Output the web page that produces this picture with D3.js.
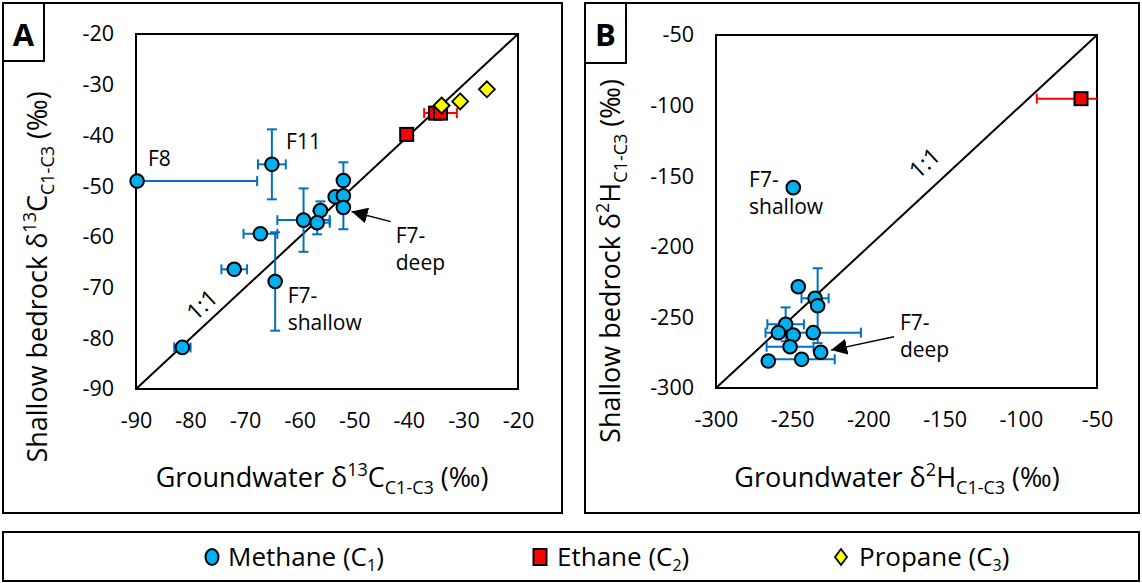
<!DOCTYPE html>
<html><head><meta charset="utf-8">
<script src="https://cdn.jsdelivr.net/npm/d3@7"></script>
<style>
body{margin:0;background:#fff}
svg{display:block}
text{font-family:"Open Sans",sans-serif;fill:#000}
</style>
</head><body>
<svg id="c" width="1142" height="583"></svg>
<script>
// ---------- DATA ----------
// Panel A: delta13C (permil)
const ticksA = [-90, -80, -70, -60, -50, -40, -30, -20];
const domainA = [-90, -20];
const methaneA_x = [-89.8, -65.1, -52.0, -53.5, -52.0, -52.0, -56.2, -56.8, -59.3, -67.2, -64.5, -72.0, -81.5];
const methaneA_y = [-49.0, -45.7, -48.9, -52.1, -51.9, -54.2, -54.8, -57.2, -56.7, -59.4, -68.8, -66.4, -81.8];
const methaneA_xErr = [22, 2.55, 0, 0, 0, 0, 0, 2.3, 4.8, 3.1, 0, 2.35, 1.5];
const methaneA_yErr = [0, 6.9, 3.6, 0, 0, 4.3, 1.8, 2.3, 6.25, 0, 9.7, 0, 0];
const ethaneA_x = [-40.4, -35.1, -34.2];
const ethaneA_y = [-39.8, -35.6, -35.6];
const ethaneA_xErr = [0, 0, 3.0];
const propaneA_x = [-34.0, -30.6, -25.7];
const propaneA_y = [-34.1, -33.3, -30.9];

// Panel B: delta2H (permil)
const ticksB = [-300, -250, -200, -150, -100, -50];
const domainB = [-300, -50];
const methaneB_x = [-246.0, -235.0, -233.3, -254.3, -259.1, -249.3, -236.2, -251.4, -231.3, -265.7, -243.8, -249.3];
const methaneB_y = [-228.3, -236.5, -241.7, -254.9, -260.8, -262.5, -260.8, -270.8, -274.7, -280.9, -279.7, -158.1];
const methaneB_xErr = [0, 8.9, 0, 12, 0, 0, 31.3, 15.4, 0, 0, 21.7, 0];
const methaneB_yErr = [0, 0, 26.5, 12, 0, 0, 0, 0, 0, 0, 0, 0];
const ethaneB_x = [-60.5];
const ethaneB_y = [-95.1];
const ethaneB_xErr = [29];
const propaneB_x = [];
const propaneB_y = [];

// Annotations (data coordinates)
const annotA = [
  {lines: ["F8"], x: -87.8, y: -46.0},
  {lines: ["F11"], x: -62.5, y: -42.7},
  {lines: ["F7-", "deep"], x: -42.4, y: -61.2},
  {lines: ["F7-", "shallow"], x: -62.2, y: -73.0}
];
const arrowA = {x1: -43.3, y1: -57.0, x2: -50.5, y2: -55.0};
const oneToOneA = {x: -77.9, y: -73.4};

const annotB = [
  {lines: ["F7-", "shallow"], x: -278.3, y: -157.6},
  {lines: ["F7-", "deep"], x: -179.3, y: -258.9}
];
const arrowB = {x1: -183.2, y1: -263.7, x2: -224.5, y2: -273.1};
const oneToOneB = {x: -163.1, y: -140.7};

const legendLabels = ["Methane (C", "Ethane (C", "Propane (C"];
const legendSubs = ["1", "2", "3"];

// ---------- STYLE ----------
const C_METH = "#00B0F0", C_METH_ERR = "#0070C0";
const C_ETH = "#FF0000", C_PROP = "#FFFF00";

const svg = d3.select("#c");
const defs = svg.append("defs");
defs.append("marker").attr("id", "ah").attr("viewBox", "0 0 10 10")
  .attr("refX", 10).attr("refY", 5).attr("markerWidth", 16).attr("markerHeight", 16)
  .attr("markerUnits", "userSpaceOnUse").attr("orient", "auto")
  .append("path").attr("d", "M0,0 L10,5 L0,10 Z").attr("fill", "#000");

function zip(xs, ys, xe, ye) {
  return xs.map((x, i) => ({x, y: ys[i], xe: xe ? xe[i] : 0, ye: ye ? ye[i] : 0}));
}

function drawPanel(cfg) {
  const g = svg.append("g");
  g.append("rect").attr("x", cfg.outer[0]).attr("y", cfg.outer[1])
    .attr("width", cfg.outer[2]).attr("height", cfg.outer[3])
    .attr("fill", "none").attr("stroke", "#000").attr("stroke-width", 2);
  g.append("rect").attr("x", cfg.outer[0]).attr("y", cfg.outer[1])
    .attr("width", 41).attr("height", cfg.letterH)
    .attr("fill", "#fff").attr("stroke", "#000").attr("stroke-width", 2);
  g.append("text").attr("x", cfg.outer[0] + 20.5).attr("y", cfg.outer[1] + 43)
    .attr("text-anchor", "middle").attr("font-size", 31).attr("font-weight", "bold")
    .text(cfg.letter);

  const x = d3.scaleLinear().domain(cfg.domain).range([cfg.plot[0], cfg.plot[1]]);
  const y = d3.scaleLinear().domain(cfg.domain).range([cfg.plot[3], cfg.plot[2]]);

  const fmt = d => String(d);
  const ax = g.append("g").attr("transform", `translate(0,${cfg.plot[3]})`)
    .call(d3.axisBottom(x).tickValues(cfg.ticks).tickSize(0).tickPadding(24).tickFormat(fmt));
  const ay = g.append("g").attr("transform", `translate(${cfg.plot[0]},0)`)
    .call(d3.axisLeft(y).tickValues(cfg.ticks).tickSize(0).tickPadding(22).tickFormat(fmt));
  [ax, ay].forEach(a => {
    a.select(".domain").remove();
    a.selectAll("text").attr("font-size", 21.5).attr("font-family", '"Open Sans",sans-serif').attr("fill", "#000");
  });

  g.append("rect").attr("x", cfg.plot[0]).attr("y", cfg.plot[2])
    .attr("width", cfg.plot[1] - cfg.plot[0]).attr("height", cfg.plot[3] - cfg.plot[2])
    .attr("fill", "none").attr("stroke", "#000").attr("stroke-width", 2);

  g.append("line").attr("x1", x(cfg.domain[0])).attr("y1", y(cfg.domain[0]))
    .attr("x2", x(cfg.domain[1])).attr("y2", y(cfg.domain[1]))
    .attr("stroke", "#000").attr("stroke-width", 2);
  const ang = -Math.atan2(cfg.plot[3] - cfg.plot[2], cfg.plot[1] - cfg.plot[0]) * 180 / Math.PI;
  g.append("text").attr("transform", `translate(${x(cfg.one.x)},${y(cfg.one.y)}) rotate(${ang})`)
    .attr("text-anchor", "middle").attr("dy", "0.35em").attr("font-size", 23).text("1:1");

  const cid = "clip" + cfg.letter;
  defs.append("clipPath").attr("id", cid).append("rect")
    .attr("x", cfg.plot[0]).attr("y", cfg.plot[2])
    .attr("width", cfg.plot[1] - cfg.plot[0]).attr("height", cfg.plot[3] - cfg.plot[2]);
  const eg = g.append("g").attr("clip-path", `url(#${cid})`);
  const cap = 5;
  function errBars(data, color) {
    data.forEach(d => {
      const cx = x(d.x), cy = y(d.y);
      if (d.xe > 0) {
        const l = x(d.x - d.xe), r = x(d.x + d.xe);
        eg.append("line").attr("x1", l).attr("x2", r).attr("y1", cy).attr("y2", cy);
        eg.append("line").attr("x1", l).attr("x2", l).attr("y1", cy - cap).attr("y2", cy + cap);
        eg.append("line").attr("x1", r).attr("x2", r).attr("y1", cy - cap).attr("y2", cy + cap);
      }
      if (d.ye > 0) {
        const t = y(d.y + d.ye), b = y(d.y - d.ye);
        eg.append("line").attr("x1", cx).attr("x2", cx).attr("y1", t).attr("y2", b);
        eg.append("line").attr("x1", cx - cap).attr("x2", cx + cap).attr("y1", t).attr("y2", t);
        eg.append("line").attr("x1", cx - cap).attr("x2", cx + cap).attr("y1", b).attr("y2", b);
      }
    });
    eg.selectAll("line:not(.done)").attr("stroke", color).attr("stroke-width", 2).classed("done", true);
  }
  const meth = zip(cfg.mx, cfg.my, cfg.mxe, cfg.mye);
  const eth = zip(cfg.ex, cfg.ey, cfg.exe, null);
  const prop = zip(cfg.px, cfg.py, null, null);
  errBars(meth, C_METH_ERR);
  errBars(eth, C_ETH);

  g.selectAll(".m").data(meth).join("circle")
    .attr("cx", d => x(d.x)).attr("cy", d => y(d.y)).attr("r", 6.8)
    .attr("fill", C_METH).attr("stroke", "#000").attr("stroke-width", 2);
  g.selectAll(".e").data(eth).join("rect")
    .attr("x", d => x(d.x) - 6.5).attr("y", d => y(d.y) - 6.5).attr("width", 13).attr("height", 13)
    .attr("fill", C_ETH).attr("stroke", "#000").attr("stroke-width", 2);
  g.selectAll(".p").data(prop).join("path")
    .attr("d", d => { const cx = x(d.x), cy = y(d.y), s = 8; return `M${cx},${cy - s}L${cx + s},${cy}L${cx},${cy + s}L${cx - s},${cy}Z`; })
    .attr("fill", C_PROP).attr("stroke", "#000").attr("stroke-width", 1.8);

  cfg.annot.forEach(a => {
    const t = g.append("text").attr("x", x(a.x)).attr("y", y(a.y)).attr("font-size", 21);
    a.lines.forEach((ln, i) => t.append("tspan").attr("x", x(a.x)).attr("dy", i === 0 ? 0 : 27).text(ln));
  });
  g.append("line").attr("x1", x(cfg.arrow.x1)).attr("y1", y(cfg.arrow.y1))
    .attr("x2", x(cfg.arrow.x2)).attr("y2", y(cfg.arrow.y2))
    .attr("stroke", "#000").attr("stroke-width", 1.3).attr("marker-end", "url(#ah)");

  const xt = g.append("text").attr("x", cfg.xTitle[0]).attr("y", cfg.xTitle[1])
    .attr("text-anchor", "middle").attr("font-size", 27);
  buildTitle(xt, "Groundwater δ", cfg.iso);
  const yt = g.append("text").attr("transform", `translate(${cfg.yTitle[0]},${cfg.yTitle[1]}) rotate(-90)`)
    .attr("text-anchor", "middle").attr("font-size", 27);
  buildTitle(yt, "Shallow bedrock δ", cfg.iso);
}

function buildTitle(t, pre, iso) {
  t.append("tspan").text(pre);
  t.append("tspan").attr("font-size", 18).attr("dy", -11).text(iso[0]);
  t.append("tspan").attr("dy", 11).text(iso[1]);
  t.append("tspan").attr("font-size", 18).attr("dy", 7).text("C1-C3");
  t.append("tspan").attr("dy", -7).text(" (‰)");
}

drawPanel({
  letter: "A", outer: [3, 3, 559, 510], letterH: 58,
  plot: [136, 518, 34, 389], domain: domainA, ticks: ticksA,
  mx: methaneA_x, my: methaneA_y, mxe: methaneA_xErr, mye: methaneA_yErr,
  ex: ethaneA_x, ey: ethaneA_y, exe: ethaneA_xErr,
  px: propaneA_x, py: propaneA_y,
  annot: annotA, arrow: arrowA, one: oneToOneA,
  iso: ["13", "C"], xTitle: [322, 487], yTitle: [47, 277]
});
drawPanel({
  letter: "B", outer: [585, 3, 554, 510], letterH: 60,
  plot: [716, 1097, 35, 388], domain: domainB, ticks: ticksB,
  mx: methaneB_x, my: methaneB_y, mxe: methaneB_xErr, mye: methaneB_yErr,
  ex: ethaneB_x, ey: ethaneB_y, exe: ethaneB_xErr,
  px: propaneB_x, py: propaneB_y,
  annot: annotB, arrow: arrowB, one: oneToOneB,
  iso: ["2", "H"], xTitle: [897, 487], yTitle: [620, 261]
});

// ---------- LEGEND ----------
const lg = svg.append("g");
lg.append("rect").attr("x", 3).attr("y", 532).attr("width", 1136).attr("height", 49)
  .attr("fill", "none").attr("stroke", "#000").attr("stroke-width", 2);
const legX = [212, 540, 841];
const legTextX = [228, 557, 859];
const ly = 557;
lg.append("ellipse").attr("cx", legX[0]).attr("cy", ly).attr("rx", 6.5).attr("ry", 8)
  .attr("fill", C_METH).attr("stroke", "#000").attr("stroke-width", 2);
lg.append("rect").attr("x", legX[1] - 6.5).attr("y", ly - 8).attr("width", 13).attr("height", 16)
  .attr("fill", C_ETH).attr("stroke", "#000").attr("stroke-width", 2);
lg.append("path").attr("d", `M${legX[2]},${ly - 8}L${legX[2] + 6},${ly}L${legX[2]},${ly + 8}L${legX[2] - 6},${ly}Z`)
  .attr("fill", C_PROP).attr("stroke", "#000").attr("stroke-width", 1.8);
legendLabels.forEach((lab, i) => {
  const t = lg.append("text").attr("x", legTextX[i]).attr("y", ly + 9).attr("font-size", 26);
  t.append("tspan").text(lab);
  t.append("tspan").attr("font-size", 16).attr("dy", 5).text(legendSubs[i]);
  t.append("tspan").attr("dy", -5).text(")");
});
</script>
</body></html>
